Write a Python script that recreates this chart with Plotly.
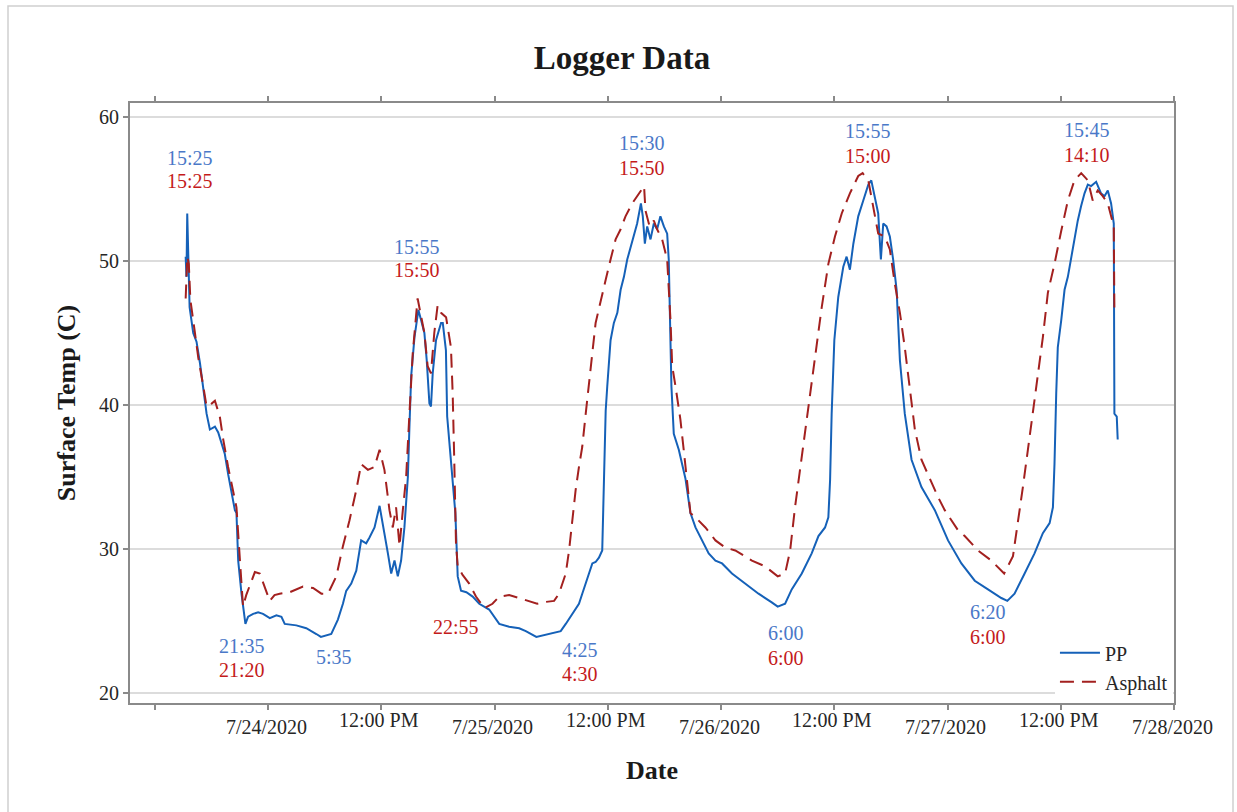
import plotly.graph_objects as go

# ---- logger readings (month-day time, surface temperature in C) ----
pp_time = [
    "07-23 15:15", "07-23 15:20", "07-23 15:25", "07-23 15:40", "07-23 16:03", "07-23 16:24",
    "07-23 16:46", "07-23 17:07", "07-23 17:17", "07-23 17:28", "07-23 17:49", "07-23 18:21",
    "07-23 18:42", "07-23 19:03", "07-23 19:24", "07-23 19:45", "07-23 20:06", "07-23 20:28",
    "07-23 20:38", "07-23 20:49", "07-23 21:10", "07-23 21:35", "07-23 21:52", "07-23 22:24",
    "07-23 22:56", "07-23 23:27", "07-24 00:10", "07-24 00:52", "07-24 01:24", "07-24 01:45",
    "07-24 02:59", "07-24 04:02", "07-24 05:06", "07-24 05:35", "07-24 06:41", "07-24 07:23",
    "07-24 07:55", "07-24 08:16", "07-24 08:48", "07-24 09:20", "07-24 09:51", "07-24 10:23",
    "07-24 10:44", "07-24 11:16", "07-24 11:48", "07-24 12:09", "07-24 12:41", "07-24 13:02",
    "07-24 13:23", "07-24 13:44", "07-24 14:05", "07-24 14:26", "07-24 14:48", "07-24 14:58",
    "07-24 15:09", "07-24 15:30", "07-24 15:55", "07-24 16:12", "07-24 16:33", "07-24 16:48",
    "07-24 17:05", "07-24 17:15", "07-24 17:26", "07-24 17:47", "07-24 18:19", "07-24 18:30",
    "07-24 18:45", "07-24 18:50", "07-24 18:58", "07-24 19:15", "07-24 19:33", "07-24 19:50",
    "07-24 20:05", "07-24 20:26", "07-24 21:00", "07-24 21:40", "07-24 22:22", "07-24 23:25",
    "07-25 00:29", "07-25 01:32", "07-25 02:36", "07-25 03:18", "07-25 04:25", "07-25 05:04",
    "07-25 06:07", "07-25 07:00", "07-25 07:32", "07-25 08:14", "07-25 08:56", "07-25 09:17",
    "07-25 09:39", "07-25 10:00", "07-25 10:21", "07-25 10:42", "07-25 11:03", "07-25 11:24",
    "07-25 11:35", "07-25 11:46", "07-25 11:56", "07-25 12:17", "07-25 12:38", "07-25 13:00",
    "07-25 13:21", "07-25 13:42", "07-25 14:03", "07-25 14:24", "07-25 14:45", "07-25 15:06",
    "07-25 15:30", "07-25 15:42", "07-25 15:55", "07-25 16:10", "07-25 16:31", "07-25 16:52",
    "07-25 17:13", "07-25 17:34", "07-25 17:56", "07-25 18:17", "07-25 18:27", "07-25 18:38",
    "07-25 18:44", "07-25 18:59", "07-25 19:31", "07-25 20:13", "07-25 20:45", "07-25 21:17",
    "07-25 21:59", "07-25 22:41", "07-25 23:24", "07-26 00:06", "07-26 01:09", "07-26 02:33",
    "07-26 03:58", "07-26 05:22", "07-26 06:00", "07-26 06:47", "07-26 07:29", "07-26 08:33",
    "07-26 09:36", "07-26 10:19", "07-26 11:01", "07-26 11:22", "07-26 11:33", "07-26 11:43",
    "07-26 12:00", "07-26 12:25", "07-26 12:57", "07-26 13:18", "07-26 13:39", "07-26 14:01",
    "07-26 14:32", "07-26 15:04", "07-26 15:36", "07-26 15:55", "07-26 16:18", "07-26 16:39",
    "07-26 16:56", "07-26 17:11", "07-26 17:32", "07-26 17:53", "07-26 18:14", "07-26 18:36",
    "07-26 18:57", "07-26 19:28", "07-26 20:11", "07-26 21:14", "07-26 22:39", "07-26 23:00",
    "07-27 00:03", "07-27 01:28", "07-27 02:53", "07-27 04:17", "07-27 05:42", "07-27 06:20",
    "07-27 07:06", "07-27 08:10", "07-27 09:13", "07-27 10:06", "07-27 10:49", "07-27 11:10",
    "07-27 11:20", "07-27 11:31", "07-27 11:41", "07-27 12:03", "07-27 12:24", "07-27 12:45",
    "07-27 13:06", "07-27 13:27", "07-27 13:48", "07-27 14:09", "07-27 14:31", "07-27 14:52",
    "07-27 15:13", "07-27 15:45", "07-27 16:16", "07-27 16:38", "07-27 16:59", "07-27 17:20",
    "07-27 17:37", "07-27 17:41", "07-27 17:56", "07-27 18:02",
]
pp_temp = [
    50.3, 48.9, 53.3, 46.8, 45.0, 44.4,
    42.9, 41.0, 40.3, 39.4, 38.3, 38.5,
    38.1, 37.3, 36.6, 35.2, 34.1, 32.7,
    32.5, 29.2, 26.9, 24.8, 25.3, 25.5,
    25.6, 25.5, 25.2, 25.4, 25.3, 24.8,
    24.7, 24.5, 24.1, 23.9, 24.1, 25.1,
    26.2, 27.1, 27.6, 28.5, 30.6, 30.4,
    30.8, 31.5, 33.0, 31.8, 29.7, 28.3,
    29.2, 28.1, 29.2, 31.5, 35.0, 38.5,
    42.0, 44.7, 46.6, 45.9, 45.0, 43.1,
    40.1, 39.9, 42.2, 44.5, 45.7, 45.7,
    44.4, 43.8, 39.2, 37.1, 34.8, 32.5,
    28.1, 27.1, 27.0, 26.7, 26.2, 25.8,
    24.8, 24.6, 24.5, 24.3, 23.9, 24.0,
    24.2, 24.3, 24.8, 25.5, 26.2, 26.9,
    27.6, 28.3, 29.0, 29.1, 29.4, 29.9,
    35.7, 39.6, 41.3, 44.5, 45.7, 46.4,
    48.0, 48.9, 50.1, 51.0, 51.7, 52.6,
    54.0, 53.1, 51.2, 52.4, 51.5, 52.6,
    52.2, 53.1, 52.4, 51.9, 50.1, 45.4,
    41.3, 38.0, 36.9, 34.9, 32.5, 31.5,
    30.6, 29.7, 29.2, 29.0, 28.3, 27.6,
    26.9, 26.3, 26.0, 26.2, 27.2, 28.3,
    29.7, 30.9, 31.5, 32.2, 34.8, 39.4,
    44.5, 47.5, 49.6, 50.3, 49.4, 51.2,
    53.1, 54.2, 55.3, 55.6, 54.5, 53.3,
    50.1, 52.6, 52.4, 51.7, 50.1, 48.0,
    43.1, 39.4, 36.2, 34.3, 32.7, 32.2,
    30.6, 29.0, 27.8, 27.2, 26.6, 26.4,
    26.9, 28.3, 29.7, 31.1, 31.8, 32.9,
    35.9, 40.8, 44.0, 45.9, 48.0, 48.9,
    50.3, 51.7, 52.8, 53.8, 54.7, 55.3,
    55.2, 55.5, 54.7, 54.5, 54.9, 54.0,
    52.6, 39.4, 39.2, 37.6,
]

asphalt_time = [
    "07-23 15:15", "07-23 15:20", "07-23 15:25", "07-23 15:35", "07-23 15:45", "07-23 16:14",
    "07-23 16:35", "07-23 17:07", "07-23 17:28", "07-23 18:00", "07-23 18:21", "07-23 18:52",
    "07-23 19:14", "07-23 19:45", "07-23 20:17", "07-23 20:38", "07-23 20:59", "07-23 21:20",
    "07-23 21:40", "07-23 22:13", "07-23 22:35", "07-23 23:06", "07-23 23:38", "07-24 00:10",
    "07-24 00:40", "07-24 01:13", "07-24 02:17", "07-24 03:41", "07-24 04:45", "07-24 05:38",
    "07-24 06:20", "07-24 07:13", "07-24 07:55", "07-24 08:37", "07-24 09:20", "07-24 09:51",
    "07-24 10:34", "07-24 11:16", "07-24 11:48", "07-24 12:19", "07-24 12:51", "07-24 13:12",
    "07-24 13:33", "07-24 13:55", "07-24 14:16", "07-24 14:37", "07-24 14:58", "07-24 15:19",
    "07-24 15:50", "07-24 16:01", "07-24 16:33", "07-24 16:54", "07-24 17:15", "07-24 17:36",
    "07-24 17:57", "07-24 18:19", "07-24 18:51", "07-24 19:22", "07-24 19:33", "07-24 19:43",
    "07-24 19:54", "07-24 20:05", "07-24 20:36", "07-24 21:18", "07-24 22:01", "07-24 22:55",
    "07-24 23:46", "07-25 00:29", "07-25 01:32", "07-25 02:36", "07-25 03:39", "07-25 04:30",
    "07-25 05:04", "07-25 06:18", "07-25 06:49", "07-25 07:32", "07-25 07:53", "07-25 08:14",
    "07-25 08:35", "07-25 08:56", "07-25 09:17", "07-25 09:39", "07-25 10:00", "07-25 10:21",
    "07-25 10:42", "07-25 11:14", "07-25 11:46", "07-25 12:17", "07-25 12:49", "07-25 13:21",
    "07-25 13:52", "07-25 14:35", "07-25 15:17", "07-25 15:50", "07-25 15:59", "07-25 16:25",
    "07-25 16:52", "07-25 17:13", "07-25 17:45", "07-25 18:17", "07-25 18:38", "07-25 18:49",
    "07-25 19:10", "07-25 19:41", "07-25 20:02", "07-25 20:24", "07-25 20:45", "07-25 21:17",
    "07-25 22:20", "07-25 23:24", "07-26 00:27", "07-26 01:30", "07-26 03:16", "07-26 04:40",
    "07-26 06:00", "07-26 06:47", "07-26 07:19", "07-26 07:50", "07-26 08:33", "07-26 09:15",
    "07-26 09:57", "07-26 10:40", "07-26 11:22", "07-26 12:04", "07-26 12:47", "07-26 13:39",
    "07-26 14:32", "07-26 15:00", "07-26 15:36", "07-26 16:07", "07-26 16:39", "07-26 17:21",
    "07-26 17:53", "07-26 18:25", "07-26 18:57", "07-26 19:28", "07-26 20:00", "07-26 20:32",
    "07-26 21:14", "07-26 22:18", "07-26 23:00", "07-26 23:42", "07-27 00:25", "07-27 01:07",
    "07-27 01:49", "07-27 03:14", "07-27 04:38", "07-27 05:42", "07-27 06:00", "07-27 06:56",
    "07-27 07:28", "07-27 07:59", "07-27 08:31", "07-27 09:03", "07-27 09:35", "07-27 10:06",
    "07-27 10:38", "07-27 11:20", "07-27 12:03", "07-27 12:45", "07-27 13:27", "07-27 14:10",
    "07-27 14:52", "07-27 15:23", "07-27 15:55", "07-27 16:27", "07-27 16:59", "07-27 17:20",
    "07-27 17:37", "07-27 17:41",
]
asphalt_temp = [
    47.4, 50.0, 50.3, 49.8, 47.3, 45.0,
    43.3, 41.3, 39.9, 40.1, 40.3, 39.2,
    37.6, 35.7, 34.1, 32.9, 29.4, 26.0,
    26.8, 27.8, 28.4, 28.3, 27.4, 26.4,
    26.8, 26.9, 27.0, 27.4, 27.3, 26.9,
    26.9, 28.1, 30.2, 32.0, 34.1, 35.9,
    35.5, 35.7, 36.9, 35.5, 32.7, 31.5,
    32.9, 30.2, 32.7, 35.0, 39.4, 43.6,
    47.4, 46.8, 45.0, 42.7, 42.2, 45.0,
    46.9, 46.4, 46.1, 44.0, 40.8, 36.2,
    30.4, 28.8, 28.2, 27.6, 26.7, 25.9,
    26.2, 26.7, 26.8, 26.6, 26.4, 26.2,
    26.3, 26.4, 26.9, 28.3, 29.9, 32.0,
    34.1, 35.7, 37.1, 39.4, 41.7, 43.6,
    45.7, 47.3, 48.7, 50.1, 51.5, 52.2,
    53.1, 54.0, 54.7, 55.2, 53.5, 52.4,
    52.8, 52.2, 51.5, 50.1, 45.9, 42.7,
    41.3, 39.0, 36.9, 34.5, 32.5, 32.2,
    31.5, 30.6, 30.1, 29.9, 29.2, 28.8,
    28.1, 28.3, 29.9, 32.9, 36.4, 39.9,
    43.4, 46.8, 49.8, 51.7, 53.3, 54.7,
    55.9, 56.1, 55.6, 53.8, 51.9, 51.7,
    50.8, 48.4, 46.4, 44.0, 41.0, 38.3,
    36.2, 34.6, 33.6, 32.7, 32.0, 31.3,
    30.9, 29.9, 29.2, 28.5, 28.3, 29.5,
    31.8, 34.3, 36.9, 39.4, 42.2, 44.7,
    47.8, 49.8, 52.1, 54.2, 55.6, 56.1,
    55.6, 54.2, 54.9, 54.5, 54.0, 53.1,
    52.4, 46.4,
]

# ---- axis ticks ----
x_tick_times = [
    "2020-07-23 12:00", "2020-07-24 00:00", "2020-07-24 12:00", "2020-07-25 00:00",
    "2020-07-25 12:00", "2020-07-26 00:00", "2020-07-26 12:00", "2020-07-27 00:00",
    "2020-07-27 12:00", "2020-07-28 00:00",
]
x_tick_labels = ["", "7/24/2020", "12:00 PM", "7/25/2020", "12:00 PM", "7/26/2020",
                 "12:00 PM", "7/27/2020", "12:00 PM", "7/28/2020"]
y_ticks = [20, 30, 40, 50, 60]

# ---- peak / trough time labels: (text, series) ----
event_labels = [
    ("15:25", "pp"), ("15:25", "asphalt"),
    ("21:35", "pp"), ("21:20", "asphalt"),
    ("5:35", "pp"),
    ("15:55", "pp"), ("15:50", "asphalt"),
    ("22:55", "asphalt"),
    ("15:30", "pp"), ("15:50", "asphalt"),
    ("4:25", "pp"), ("4:30", "asphalt"),
    ("6:00", "pp"), ("6:00", "asphalt"),
    ("15:55", "pp"), ("15:00", "asphalt"),
    ("6:20", "pp"), ("6:00", "asphalt"),
    ("15:45", "pp"), ("14:10", "asphalt"),
]
# label centres on the page (px)
event_label_pos = [
    (190, 158), (190, 181),
    (242, 646), (242, 670),
    (334, 657),
    (417, 247), (417, 270),
    (456, 627),
    (642, 143), (642, 168),
    (580, 650), (580, 674),
    (786, 633), (786, 658),
    (868, 131), (868, 156),
    (988, 612), (988, 637),
    (1087, 130), (1087, 155),
]

W, H = 1237, 812
PLOT_L, PLOT_R, PLOT_T, PLOT_B = 130, 1174, 103, 703
SERIF = "Liberation Serif, Times New Roman, serif"
BLUE = "#1561b8"
RED = "#a3201f"
LABEL_COLORS = {"pp": "#4a78c8", "asphalt": "#c41a1a"}


def px_to_paper(px, py):
    return ((px - PLOT_L) / (PLOT_R - PLOT_L), (PLOT_B - py) / (PLOT_B - PLOT_T))


fig = go.Figure()
fig.add_trace(go.Scatter(
    x=["2020-" + t for t in pp_time], y=pp_temp, name="PP", mode="lines",
    line=dict(color=BLUE, width=2),
))
fig.add_trace(go.Scatter(
    x=["2020-" + t for t in asphalt_time], y=asphalt_temp, name="Asphalt", mode="lines",
    line=dict(color=RED, width=2, dash="14px,8px"),
))

annotations = []
for (text, series), (px, py) in zip(event_labels, event_label_pos):
    ax, ay = px_to_paper(px, py)
    annotations.append(dict(
        text=text, x=ax, y=ay, xref="paper", yref="paper", showarrow=False,
        xanchor="center", yanchor="middle",
        font=dict(family=SERIF, size=20, color=LABEL_COLORS[series]),
    ))

# staggered date / noon tick labels under the axis
for t, lab in zip(x_tick_times, x_tick_labels):
    if not lab:
        continue
    cy = 720 if lab.startswith("12") else 727
    annotations.append(dict(
        text=lab, x=t, xref="x", y=(PLOT_B - cy) / (PLOT_B - PLOT_T), yref="paper",
        showarrow=False, xanchor="center", yanchor="middle", xshift=-2,
        font=dict(family=SERIF, size=20, color="#262626"),
    ))

# light outer border around the chart image
bx0, by1 = px_to_paper(8, 6)
bx1, by0 = px_to_paper(1233, 830)

fig.update_layout(
    width=W, height=H,
    margin=dict(l=PLOT_L, r=W - PLOT_R, t=PLOT_T, b=H - PLOT_B),
    paper_bgcolor="white", plot_bgcolor="white",
    title=dict(text="Logger Data", x=622 / W, xref="container", xanchor="center",
               y=1 - 57 / H, yref="container", yanchor="middle",
               font=dict(family=SERIF, size=33, color="#1a1a1a", weight="bold")),
    xaxis=dict(
        type="date", range=["2020-07-23 09:21", "2020-07-28 00:00"],
        tickvals=x_tick_times, showticklabels=False,
        ticks="outside", ticklen=5, tickwidth=1.5, tickcolor="#8a8a8a",
        showline=True, linecolor="#8a8a8a", linewidth=2, mirror="ticks",
        showgrid=False, zeroline=False,
        title=dict(text="Date", standoff=52,
                   font=dict(family=SERIF, size=26, color="#1a1a1a", weight="bold")),
    ),
    yaxis=dict(
        range=[19.31, 60.97], tickvals=y_ticks,
        ticks="outside", ticklen=5, tickwidth=1.5, tickcolor="#8a8a8a",
        showline=True, linecolor="#8a8a8a", linewidth=2, mirror=True,
        showgrid=True, gridcolor="#dcdcdc", gridwidth=1.5, zeroline=False,
        tickfont=dict(family=SERIF, size=20, color="#262626"),
        title=dict(text="Surface Temp (C)", standoff=16,
                   font=dict(family=SERIF, size=26, color="#1a1a1a", weight="bold")),
    ),
    legend=dict(
        x=0.999, y=0.003, xanchor="right", yanchor="bottom",
        bgcolor="white", borderwidth=0,
        font=dict(family=SERIF, size=20, color="#262626"),
        itemwidth=40, tracegroupgap=2,
    ),
    showlegend=True,
    annotations=annotations,
    shapes=[dict(type="rect", xref="paper", yref="paper", x0=bx0, x1=bx1, y0=by0, y1=by1,
                 line=dict(color="#cfcfcf", width=1.5), fillcolor="rgba(0,0,0,0)", layer="below")],
)

fig.write_html("out.html")
